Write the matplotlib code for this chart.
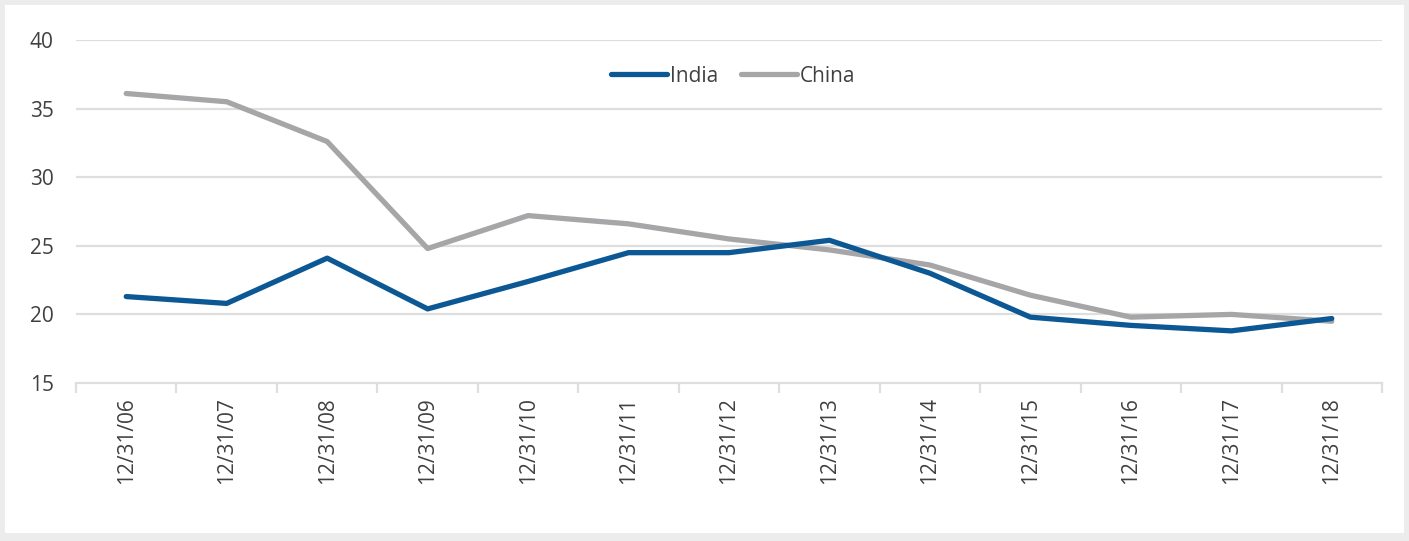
import numpy as np
import matplotlib.pyplot as plt
from matplotlib.patches import Rectangle

dates = ["12/31/06", "12/31/07", "12/31/08", "12/31/09", "12/31/10", "12/31/11",
         "12/31/12", "12/31/13", "12/31/14", "12/31/15", "12/31/16", "12/31/17",
         "12/31/18"]
india = [21.3, 20.8, 24.1, 20.4, 22.4, 24.5, 24.5, 25.4, 23.0, 19.8, 19.2, 18.8, 19.7]
china = [36.1, 35.5, 32.6, 24.8, 27.2, 26.6, 25.5, 24.7, 23.6, 21.4, 19.8, 20.0, 19.5]
yticks = [15, 20, 25, 30, 35, 40]

plt.rcParams['font.family'] = ['Open Sans', 'DejaVu Sans']
txt = '#404040'
grid = '#dedede'

fig = plt.figure(figsize=(14.09, 5.41), dpi=100)
fig.patch.set_facecolor('#ececec')
# white panel inside the grey frame
fig.patches.append(Rectangle((5 / 1409, 8 / 541), 1399 / 1409, 528 / 541,
                             transform=fig.transFigure, facecolor='white',
                             edgecolor='none', zorder=-10))

ax = fig.add_axes([76 / 1409, 1 - 383 / 541, 1306 / 1409, 343 / 541])
ax.set_facecolor('none')
x = np.arange(len(dates))
ax.plot(x, india, color='#0c5894', lw=3.8, solid_capstyle='round', label='India', zorder=3)
ax.plot(x, china, color='#a6a6a9', lw=3.8, solid_capstyle='round', label='China', zorder=2)

ax.set_xlim(-0.5, len(dates) - 0.5)
ax.set_ylim(15, 40)
ax.set_yticks(yticks)
ax.set_yticklabels([str(v) for v in yticks], fontsize=15, color=txt)
ax.tick_params(axis='y', length=0, pad=16)
for v in yticks[1:]:
    ax.axhline(v, color=grid, lw=1.6, zorder=1)

ax.set_xticks(x)
ax.set_xticklabels(dates, rotation=90, fontsize=15, color=txt)
ax.set_xticks(np.arange(-0.5, len(dates)), minor=True)
ax.tick_params(axis='x', which='major', length=0, pad=10)
ax.tick_params(axis='x', which='minor', length=7, width=1.6, color=grid)

for s in ['top', 'right', 'left']:
    ax.spines[s].set_visible(False)
ax.spines['bottom'].set_color(grid)
ax.spines['bottom'].set_linewidth(1.6)

leg = ax.legend(loc='upper center', bbox_to_anchor=(0.503, 0.98), ncol=2,
                frameon=False, fontsize=15, handlelength=2.7, handletextpad=0.12,
                columnspacing=1.1)
for t in leg.get_texts():
    t.set_color(txt)

fig.savefig('out.png', dpi=100, facecolor=fig.get_facecolor())
